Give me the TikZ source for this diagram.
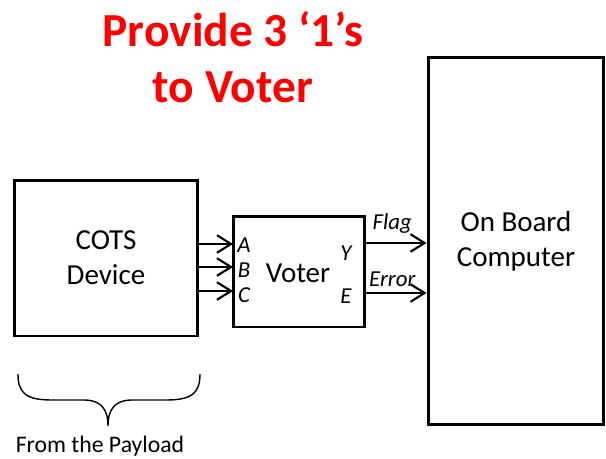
\documentclass[tikz,border=0pt]{standalone}
\usepackage{fontspec}
\setmainfont{Carlito}
\usetikzlibrary{arrows.meta,positioning}

\begin{document}
\begin{tikzpicture}[x=0.02cm,y=-0.02cm]

  % Definitions
  \tikzstyle{Block} = [rectangle, draw=black, line width=1.7pt, text centered, align=center, font=\fontsize{16.5}{20}\selectfont, inner sep=0pt]
  \tikzstyle{Pin} = [font=\fontsize{13}{15}\selectfont\itshape, inner sep=0pt]
  \tikzstyle{arrow} = [line width=1.2pt, -{Straight Barb[length=8pt,width=10pt,line width=1.2pt]}]

  \useasboundingbox (0,0) rectangle (606,458);

  \node (Title) [text=red, align=center, font=\fontsize{27}{32}\selectfont\bfseries] at (233,57) {Provide 3 ‘1’s\\to Voter};

  \node (COTS) [Block, minimum width=3.68cm, minimum height=3.12cm] at (106,258) {COTS\\Device};
  \node (Voter) [Block, minimum width=2.64cm, minimum height=2.22cm] at (299,271.5) {};
  \node (VoterText) at (298,273) [font=\fontsize{16.5}{20}\selectfont] {Voter};
  \node (OBC) [Block, minimum width=3.52cm, minimum height=7.36cm] at (516,241) {On Board\\Computer};

  % inputs
  \node (A) [Pin] at (244,245) {A};
  \node (B) [Pin] at (244,270) {B};
  \node (C) [Pin] at (244,295) {C};
  \node (Y) [Pin] at (346,253) {Y};
  \node (E) [Pin] at (346,296) {E};
  \coordinate (a) at (233,244);
  \coordinate (b) at (233,267);
  \coordinate (c) at (233,291);
  \coordinate (y) at (365,243);
  \coordinate (e) at (365,293);

  \draw [arrow] (COTS.east |- a) -- (a);
  \draw [arrow] (COTS.east |- b) -- (b);
  \draw [arrow] (COTS.east |- c) -- (c);
  \draw [arrow] (y) -- node[Pin, above=5pt, xshift=-2pt] (Flag) {Flag} (OBC.west |- y);
  \draw [arrow] (e) -- node[Pin, above=3pt, xshift=-2pt] (Error) {Error} (OBC.west |- e);

  % brace
  \draw [line width=0.8pt] (18,374) .. controls (18,393) and (26,400) .. (52,400) -- (84,400)
        .. controls (100,400) and (108,408) .. (108,426)
        .. controls (108,408) and (116,400) .. (132,400) -- (166,400)
        .. controls (192,400) and (200,393) .. (200,374);
  \node (Payload) [font=\fontsize{13.5}{16}\selectfont] at (100,446) {From the Payload};

\end{tikzpicture}
\end{document}
